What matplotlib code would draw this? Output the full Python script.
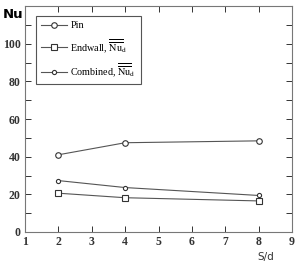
import matplotlib.pyplot as plt
from matplotlib.ticker import MultipleLocator

plt.rcParams['font.family'] = 'Liberation Serif'
plt.rcParams['mathtext.fontset'] = 'stix'

# data
sd = [2, 4, 8]
pin = [41.0, 47.4, 48.4]
endwall = [20.6, 18.2, 16.5]
combined = [27.3, 23.6, 19.4]

line_col = '#555555'

fig = plt.figure(figsize=(2.95, 2.66), dpi=100)
ax = fig.add_axes([25 / 295, 34 / 266, 267 / 295, 226 / 266])

ax.plot(sd, pin, color=line_col, lw=0.8, marker='o', ms=4, mfc='white',
        mec='#333333', mew=0.8, label='Pin')
ax.plot(sd, endwall, color=line_col, lw=0.8, marker='s', ms=4, mfc='white',
        mec='#333333', mew=0.8, label=r'Endwall, $\overline{\overline{\mathrm{Nu}}}_\mathrm{d}$')
ax.plot(sd, combined, color=line_col, lw=0.8, marker='o', ms=3, mfc='white',
        mec='#333333', mew=0.8, label=r'Combined, $\overline{\overline{\mathrm{Nu}}}_\mathrm{d}$')

ax.set_xlim(1, 9)
ax.set_ylim(0, 120)
ax.xaxis.set_major_locator(MultipleLocator(1))
ax.yaxis.set_minor_locator(MultipleLocator(10))
ax.set_yticks([0, 20, 40, 60, 80, 100])
ax.tick_params(which='both', direction='in', top=True, right=True,
               labelsize=8.5, width=0.7, colors='#333333', pad=3)
ax.tick_params(which='major', length=4)
ax.tick_params(which='minor', length=4)
for lab in ax.get_xticklabels() + ax.get_yticklabels():
    lab.set_fontweight('bold')
for sp in ax.spines.values():
    sp.set_color('#777777')
    sp.set_linewidth(0.8)

leg = ax.legend(loc='upper left', bbox_to_anchor=(0.041, 0.956), borderaxespad=0,
                fontsize=7.3, fancybox=False, edgecolor='#555555', framealpha=1,
                handlelength=2.6, labelspacing=0.7, borderpad=0.5, handletextpad=0.3)
leg.get_frame().set_linewidth(0.8)

fig.text(3 / 295, 1 - 15 / 266, 'Nu', fontsize=9.5, fontweight='bold',
         family='DejaVu Sans', va='center', ha='left')
fig.text(257 / 295, 1 - 257 / 266, 'S/d', fontsize=7.5, va='center', ha='left',
         family='DejaVu Sans', color='#333333')

fig.savefig('out.png', dpi=100)
